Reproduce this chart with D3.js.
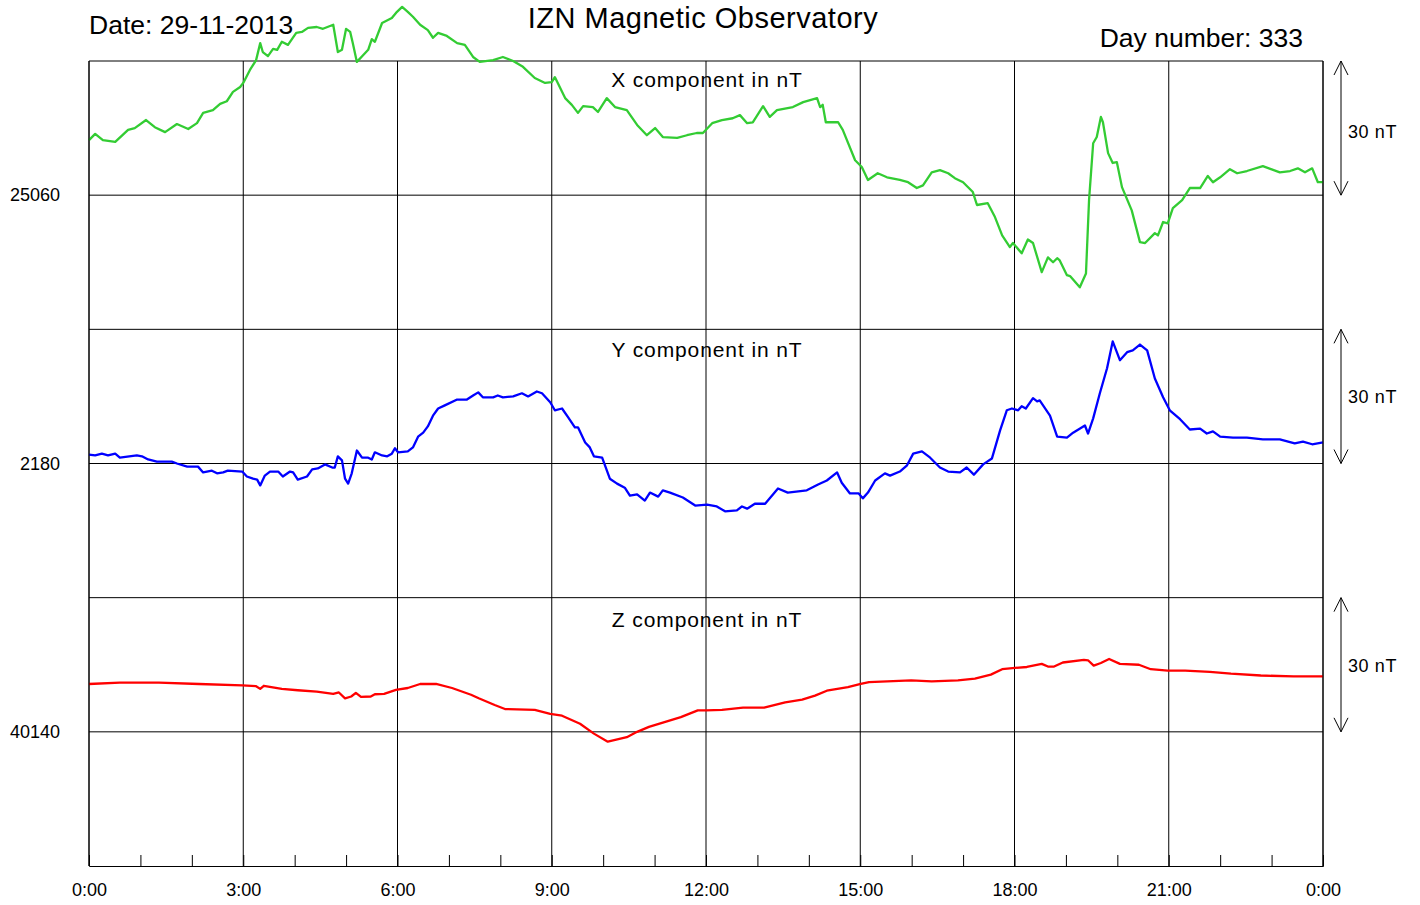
<!DOCTYPE html>
<html>
<head>
<meta charset="utf-8">
<script src="https://cdn.jsdelivr.net/npm/d3@7"></script>
<style>
  body { margin: 0; background: #fff; }
  svg { display: block; font-family: "Liberation Sans", Arial, sans-serif; }
</style>
</head>
<body>
<div id="chart"></div>
<script>
// ---- data (hours of day, nT) ----
const components = ["X", "Y", "Z"];
const baselines = [25060, 2180, 40140];
const colors = ["#33cc33", "#0000ff", "#ff0000"];
const scaleNT = 30;
const hourTicks = d3.range(0, 25, 1);
const labelTicks = d3.range(0, 25, 3);
const tickLabels = ["0:00", "3:00", "6:00", "9:00", "12:00", "15:00", "18:00", "21:00", "0:00"];

const xTime = [0.00,0.12,0.27,0.51,0.76,0.89,1.11,1.28,1.48,1.71,1.93,2.10,2.22,2.41,2.55,2.68,2.80,2.94,3.00,3.13,
  3.25,3.33,3.38,3.48,3.58,3.66,3.75,3.87,4.03,4.14,4.26,4.43,4.55,4.75,4.84,4.92,5.00,5.08,5.13,5.21,
  5.33,5.43,5.50,5.56,5.70,5.89,5.99,6.09,6.20,6.30,6.44,6.59,6.69,6.79,6.96,7.16,7.31,7.47,7.60,7.86,
  8.05,8.25,8.44,8.67,8.87,9.00,9.06,9.26,9.39,9.51,9.61,9.80,9.90,10.07,10.23,10.46,10.66,10.85,11.01,11.16,
  11.44,11.63,11.82,11.94,12.12,12.31,12.52,12.66,12.80,12.91,13.11,13.24,13.38,13.69,13.89,14.16,14.22,14.27,14.33,14.57,
  14.66,14.90,15.03,15.15,15.34,15.52,15.77,15.93,16.10,16.22,16.39,16.55,16.71,16.84,17.00,17.19,17.27,17.48,17.62,17.76,
  17.91,17.97,18.14,18.26,18.36,18.53,18.65,18.75,18.83,18.88,19.02,19.08,19.27,19.39,19.45,19.53,19.60,19.68,19.72,19.82,
  19.91,19.99,20.09,20.28,20.44,20.54,20.73,20.79,20.89,20.98,21.08,21.26,21.41,21.61,21.76,21.86,22.00,22.19,22.33,22.52,
  22.83,23.16,23.36,23.51,23.65,23.79,23.90,24.00];
const xVals = [25072.3,25073.7,25072.3,25071.9,25074.6,25075.0,25076.8,25075.2,25074.1,25075.9,
  25074.8,25076.1,25078.4,25079.0,25080.4,25081.0,25083.1,25084.2,25085.1,25088.0,
  25090.2,25094.0,25092.0,25091.1,25092.7,25092.5,25094.3,25093.6,25096.3,25096.5,
  25097.4,25097.6,25097.2,25098.1,25092.0,25092.5,25097.2,25096.5,25094.0,25089.8,
  25091.3,25092.5,25094.9,25094.3,25098.5,25099.6,25101.0,25102.1,25101.0,25099.9,
  25098.1,25096.9,25095.2,25096.3,25095.6,25094.0,25093.6,25090.9,25089.8,25090.2,
  25090.9,25090.0,25088.7,25086.2,25085.1,25085.3,25086.4,25081.7,25080.2,25078.4,
  25079.9,25079.7,25078.6,25081.7,25079.7,25079.0,25075.7,25073.4,25075.0,25073.0,
  25072.8,25073.4,25073.9,25073.9,25076.1,25076.8,25077.2,25077.9,25076.1,25076.3,
  25079.9,25077.5,25079.0,25079.7,25080.8,25081.7,25079.7,25080.2,25076.3,25076.3,
  25074.6,25067.8,25066.3,25063.4,25064.9,25064.0,25063.4,25062.9,25061.6,25062.2,
  25065.1,25065.6,25064.9,25063.8,25062.9,25060.7,25057.8,25058.2,25055.1,25051.0,
  25048.4,25049.3,25047.0,25050.1,25049.3,25042.8,25046.1,25045.0,25045.9,25045.4,
  25042.1,25041.9,25039.4,25042.5,25058.9,25071.6,25073.0,25077.5,25076.3,25069.4,
  25067.2,25067.4,25061.8,25056.6,25049.5,25049.3,25051.5,25051.0,25054.0,25053.7,
  25057.1,25058.9,25061.6,25061.6,25064.3,25062.9,25064.0,25065.8,25064.9,25065.4,
  25066.5,25065.1,25065.4,25066.0,25065.1,25066.0,25062.9,25062.9];

const yTime = [0.00,0.12,0.25,0.37,0.51,0.60,0.93,1.03,1.15,1.32,1.61,1.71,1.91,2.12,2.22,2.39,2.49,2.61,2.70,2.98,
  3.07,3.19,3.27,3.33,3.42,3.52,3.68,3.77,3.91,3.97,4.06,4.24,4.34,4.45,4.59,4.73,4.78,4.84,4.92,4.98,
  5.04,5.11,5.21,5.31,5.43,5.50,5.56,5.70,5.80,5.89,5.95,6.01,6.20,6.30,6.40,6.50,6.59,6.69,6.79,6.92,
  7.16,7.35,7.47,7.57,7.66,7.86,7.95,8.05,8.25,8.42,8.54,8.71,8.81,8.97,9.06,9.20,9.32,9.45,9.51,9.65,
  9.74,9.82,9.98,10.13,10.27,10.42,10.52,10.66,10.81,10.91,11.07,11.16,11.30,11.55,11.79,12.02,12.21,12.37,12.60,12.70,
  12.80,12.95,13.15,13.40,13.59,13.96,14.18,14.35,14.55,14.64,14.80,14.97,15.05,15.15,15.29,15.48,15.58,15.77,15.91,16.03,
  16.20,16.36,16.55,16.71,16.94,17.07,17.21,17.39,17.56,17.72,17.85,17.95,18.07,18.14,18.22,18.36,18.44,18.49,18.69,18.83,
  19.02,19.14,19.37,19.43,19.53,19.66,19.80,19.91,20.05,20.19,20.30,20.44,20.58,20.73,20.89,21.02,21.22,21.41,21.61,21.74,
  21.86,22.00,22.25,22.52,22.83,23.16,23.45,23.61,23.79,24.00];
const yVals = [2182.0,2181.8,2182.2,2181.8,2182.2,2181.3,2181.8,2181.6,2180.9,2180.4,
  2180.4,2180.0,2179.3,2179.3,2178.0,2178.4,2177.8,2178.0,2178.4,2178.2,
  2177.1,2176.6,2176.4,2175.1,2177.3,2178.2,2178.2,2177.1,2178.2,2178.0,
  2176.4,2177.1,2178.7,2178.9,2179.8,2179.1,2179.1,2181.6,2180.7,2176.6,
  2175.5,2177.8,2182.9,2181.3,2181.3,2180.9,2182.5,2181.8,2181.6,2182.2,
  2183.4,2182.5,2182.7,2183.6,2186.0,2186.9,2188.3,2190.7,2192.3,2193.0,
  2194.3,2194.3,2195.2,2195.9,2194.8,2194.8,2195.2,2194.8,2195.0,2195.7,
  2195.0,2196.1,2195.7,2193.7,2191.9,2192.3,2190.3,2188.1,2188.1,2184.7,
  2183.6,2181.6,2181.3,2176.6,2175.5,2174.6,2172.8,2173.1,2171.7,2173.5,
  2172.6,2174.0,2173.5,2172.4,2170.6,2170.8,2170.4,2169.3,2169.5,2170.4,
  2169.9,2171.0,2171.0,2174.4,2173.5,2174.0,2175.3,2176.2,2178.0,2175.7,
  2173.3,2173.3,2172.2,2173.5,2176.2,2177.8,2177.3,2178.2,2179.6,2182.2,
  2182.7,2181.3,2179.1,2178.2,2178.0,2179.1,2177.5,2179.8,2181.1,2187.4,
  2191.9,2192.3,2191.9,2192.8,2192.3,2194.6,2193.9,2194.1,2190.7,2186.0,
  2185.8,2186.9,2188.5,2186.7,2190.1,2195.7,2201.3,2207.3,2203.1,2204.9,
  2205.3,2206.6,2205.3,2199.0,2194.8,2191.9,2189.9,2187.6,2187.8,2186.7,
  2187.2,2186.0,2185.8,2185.8,2185.4,2185.4,2184.5,2184.9,2184.3,2184.7];

const zTime = [0.00,0.60,1.36,2.14,2.98,3.25,3.33,3.40,3.75,4.06,4.43,4.75,4.86,4.98,5.10,5.19,5.29,5.48,5.56,5.74,
  5.97,6.20,6.44,6.75,7.06,7.43,7.58,7.89,8.09,8.67,8.97,9.20,9.55,9.82,10.09,10.46,10.66,10.89,11.51,11.84,
  12.00,12.31,12.72,13.13,13.54,13.87,14.12,14.35,14.76,15.01,15.17,15.99,16.39,16.90,17.23,17.54,17.76,18.01,18.24,18.53,
  18.65,18.77,18.94,19.35,19.43,19.54,19.68,19.84,20.05,20.42,20.65,20.98,21.32,21.80,22.21,22.79,23.43,24.00];
const zVals = [40150.7,40151.0,40151.0,40150.7,40150.4,40150.2,40149.6,40150.3,40149.6,40149.3,
  40149.0,40148.5,40148.8,40147.5,40147.9,40148.7,40147.8,40147.9,40148.4,40148.5,
  40149.4,40149.8,40150.7,40150.7,40149.8,40148.3,40147.5,40146.0,40145.1,40144.9,
  40144.0,40143.6,40141.8,40139.6,40137.8,40138.8,40140.0,40141.1,40143.3,40144.8,
  40144.8,40144.9,40145.4,40145.4,40146.6,40147.2,40148.1,40149.2,40150.0,40150.7,
  40151.1,40151.5,40151.3,40151.5,40151.9,40152.8,40154.0,40154.3,40154.5,40155.2,
  40154.6,40154.6,40155.5,40156.1,40156.0,40154.8,40155.4,40156.3,40155.2,40155.0,
  40154.0,40153.7,40153.7,40153.4,40153.0,40152.6,40152.4,40152.4];

const series = [
  { time: xTime, vals: xVals },
  { time: yTime, vals: yVals },
  { time: zTime, vals: zVals }
];

// ---- layout ----
const width = 1420, height = 905;
const margin = { top: 61, right: 97, bottom: 39, left: 89 };
const w = width - margin.left - margin.right;
const h = height - margin.top - margin.bottom;
const panelH = h / 3;

const root = d3.select("#chart").append("svg")
  .attr("width", width)
  .attr("height", height);

const svg = root.append("g")
  .attr("transform", `translate(${margin.left},${margin.top})`);

const xScale = d3.scaleLinear().domain([0, 24]).range([0, w]);

// vertical grid
svg.append("g").selectAll("line")
  .data(labelTicks)
  .join("line")
  .attr("x1", d => xScale(d)).attr("x2", d => xScale(d))
  .attr("y1", 0).attr("y2", h)
  .attr("stroke", "#000").attr("stroke-width", 1);

// hour ticks on the bottom
const minorAxis = d3.axisBottom(xScale).tickValues(hourTicks).tickSize(-11).tickFormat("");
const minorG = svg.append("g").attr("transform", `translate(0,${h})`).call(minorAxis);
minorG.select(".domain").attr("stroke", "#000");
minorG.selectAll(".tick line").attr("stroke", "#000");

// time labels
const labelAxis = d3.axisBottom(xScale).tickValues(labelTicks).tickSize(0).tickPadding(17)
  .tickFormat((d, i) => tickLabels[i]);
const labelG = svg.append("g").attr("transform", `translate(0,${h})`).call(labelAxis);
labelG.select(".domain").remove();
labelG.selectAll("text").attr("font-size", 18).attr("font-family", "Liberation Sans, Arial, sans-serif").attr("fill", "#000");

// panels
components.forEach((c, i) => {
  const top = i * panelH;
  const base = baselines[i];
  const yScale = d3.scaleLinear().domain([base - scaleNT, base + scaleNT]).range([top + panelH, top]);
  const g = svg.append("g").attr("class", "panel-" + c);

  // panel top border and baseline
  g.selectAll("line.hz")
    .data([base + scaleNT, base])
    .join("line")
    .attr("class", "hz")
    .attr("x1", 0).attr("x2", w)
    .attr("y1", d => yScale(d)).attr("y2", d => yScale(d))
    .attr("stroke", "#000").attr("stroke-width", 1);

  // baseline label
  const yAxis = d3.axisLeft(yScale).tickValues([base]).tickSize(0).tickPadding(29).tickFormat(d3.format("d"));
  const yG = g.append("g").call(yAxis);
  yG.select(".domain").remove();
  yG.selectAll("text").attr("font-size", 18).attr("font-family", "Liberation Sans, Arial, sans-serif").attr("fill", "#000");

  // panel title
  g.append("text")
    .attr("x", w / 2 + 1)
    .attr("y", top + 26 + i * 1.5)
    .attr("text-anchor", "middle")
    .attr("font-size", 21)
    .attr("letter-spacing", 0.9)
    .text(c + " component in nT");

  // 30 nT scale arrow
  const ax = w + 18;
  const yTop = yScale(base + scaleNT), yBot = yScale(base);
  const arrow = g.append("g").attr("stroke", "#000").attr("stroke-width", 1).attr("fill", "none");
  arrow.append("line").attr("x1", ax).attr("x2", ax).attr("y1", yTop).attr("y2", yBot);
  arrow.append("path").attr("d", `M${ax - 7},${yTop + 14}L${ax},${yTop}L${ax + 7},${yTop + 14}`);
  arrow.append("path").attr("d", `M${ax - 7},${yBot - 14}L${ax},${yBot}L${ax + 7},${yBot - 14}`);
  g.append("text")
    .attr("x", ax + 7)
    .attr("y", (yTop + yBot) / 2 + 7 + (i === 0 ? 3 : 0))
    .attr("font-size", 18)
    .attr("letter-spacing", 0.6)
    .text("30 nT");

  // data line
  const s = series[i];
  const pts = s.time.map((t, k) => [t, s.vals[k]]);
  const line = d3.line()
    .x(d => xScale(d[0]))
    .y(d => yScale(d[1]));
  g.append("path")
    .datum(pts)
    .attr("fill", "none")
    .attr("stroke", colors[i])
    .attr("stroke-width", 2.3)
    .attr("stroke-linejoin", "round")
    .attr("d", line);
});

// right and left frame
svg.append("g").selectAll("line")
  .data([0, w])
  .join("line")
  .attr("x1", d => d).attr("x2", d => d)
  .attr("y1", 0).attr("y2", h)
  .attr("stroke", "#000");

// header texts
root.append("text").attr("x", 703).attr("y", 28).attr("text-anchor", "middle")
  .attr("font-size", 29).attr("letter-spacing", 0.5).text("IZN Magnetic Observatory");
root.append("text").attr("x", 89).attr("y", 34)
  .attr("font-size", 26.5).text("Date: 29-11-2013");
root.append("text").attr("x", 1303).attr("y", 47).attr("text-anchor", "end")
  .attr("font-size", 26.5).text("Day number: 333");
</script>
</body>
</html>
